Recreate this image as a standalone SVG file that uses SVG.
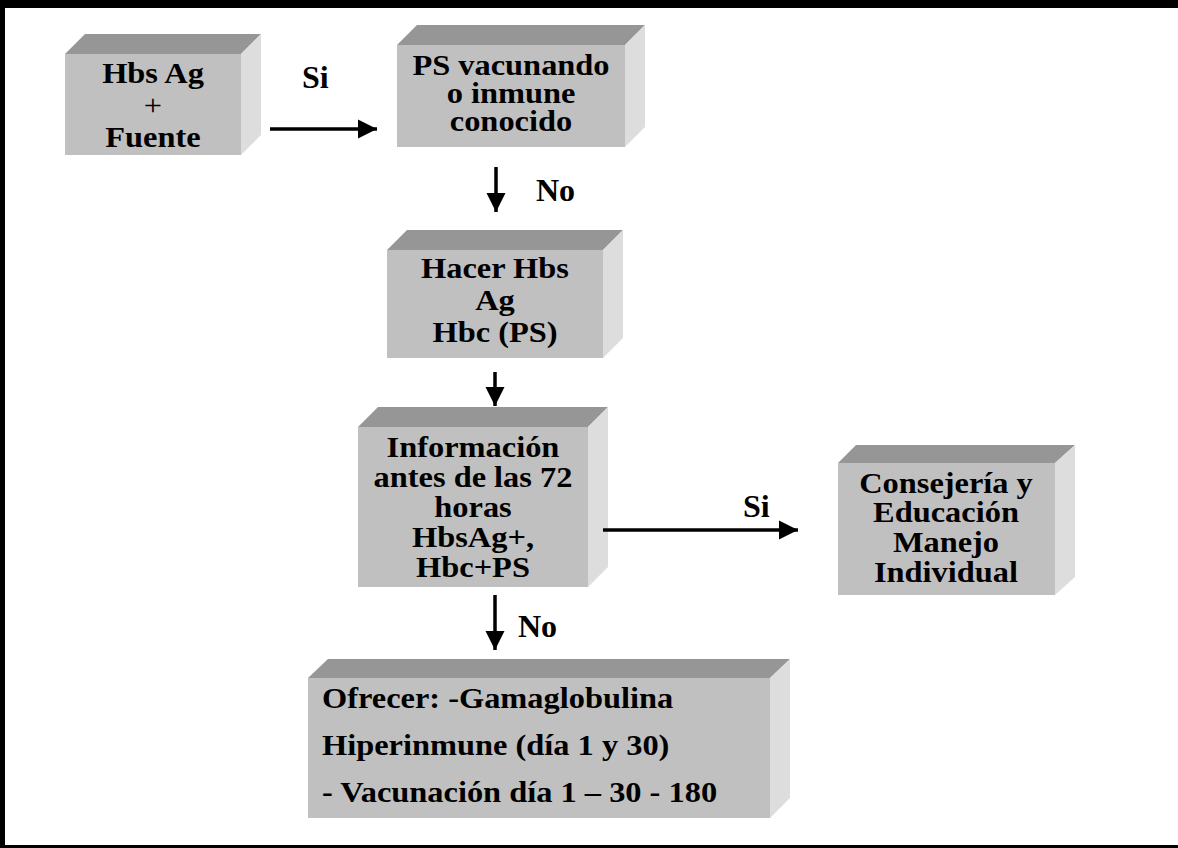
<svg xmlns="http://www.w3.org/2000/svg" width="1178" height="848" viewBox="0 0 1178 848">
<defs>
<style>
.front{fill:#C0C0C0}
.top{fill:#969696}
.side{fill:#DDDDDD}
text{font-family:"Liberation Serif","Times New Roman",serif;font-weight:bold;font-size:30px;fill:#000}
.c{text-anchor:middle}
.n{font-weight:normal}
.lbl{font-size:32px}
.ln{stroke:#000;stroke-width:3.5;fill:none}
</style>
<marker id="ah" viewBox="0 0 10 10" refX="10" refY="5" markerWidth="5.5" markerHeight="5.5" markerUnits="strokeWidth" orient="auto">
<path d="M0,0 L10,5 L0,10 Z" fill="#000"/>
</marker>
</defs>
<rect x="0" y="0" width="1178" height="848" fill="#fff"/>
<rect x="0" y="0" width="1178" height="8" fill="#000"/>
<rect x="0" y="0" width="5" height="848" fill="#000"/>
<rect x="0" y="845" width="1178" height="3" fill="#000"/>

<g id="n1">
<polygon class="top" points="65,54 85,34 261,34 241,54"/>
<polygon class="side" points="241,54 261,34 261,135 241,155"/>
<rect class="front" x="65" y="54" width="176" height="101"/>
<text class="c" transform="translate(153,0) scale(1.08,1) translate(-153,0)"><tspan x="153" y="83">Hbs Ag</tspan><tspan x="153" y="115" class="n">+</tspan><tspan x="153" y="147">Fuente</tspan></text>
</g>

<g id="n2">
<polygon class="top" points="397,45 417,25 645,25 625,45"/>
<polygon class="side" points="625,45 645,25 645,127 625,147"/>
<rect class="front" x="397" y="45" width="228" height="102"/>
<text class="c" transform="translate(511,0) scale(1.08,1) translate(-511,0)"><tspan x="511" y="75">PS vacunando</tspan><tspan x="511" y="103">o inmune</tspan><tspan x="511" y="131">conocido</tspan></text>
</g>

<g id="n3">
<polygon class="top" points="387,250 407,230 623,230 603,250"/>
<polygon class="side" points="603,250 623,230 623,338 603,358"/>
<rect class="front" x="387" y="250" width="216" height="108"/>
<text class="c" transform="translate(495,0) scale(1.08,1) translate(-495,0)"><tspan x="495" y="278">Hacer Hbs</tspan><tspan x="495" y="310">Ag</tspan><tspan x="495" y="342">Hbc (PS)</tspan></text>
</g>

<g id="n4">
<polygon class="top" points="358,427 378,407 608,407 588,427"/>
<polygon class="side" points="588,427 608,407 608,567 588,587"/>
<rect class="front" x="358" y="427" width="230" height="160"/>
<text class="c" transform="translate(473,0) scale(1.08,1) translate(-473,0)"><tspan x="473" y="457">Información</tspan><tspan x="473" y="487">antes de las 72</tspan><tspan x="473" y="517">horas</tspan><tspan x="473" y="547">HbsAg+,</tspan><tspan x="473" y="577">Hbc+PS</tspan></text>
</g>

<g id="n5">
<polygon class="top" points="838,463 856,445 1075,445 1055,463"/>
<polygon class="side" points="1055,463 1075,445 1075,577 1055,595"/>
<rect class="front" x="838" y="463" width="217" height="132"/>
<text class="c" transform="translate(946,0) scale(1.08,1) translate(-946,0)"><tspan x="946" y="493">Consejería y</tspan><tspan x="946" y="522">Educación</tspan><tspan x="946" y="552">Manejo</tspan><tspan x="946" y="582">Individual</tspan></text>
</g>

<g id="n6">
<polygon class="top" points="308,678 328,659 790,659 770,678"/>
<polygon class="side" points="770,678 790,659 790,798 770,818"/>
<rect class="front" x="308" y="678" width="462" height="140"/>
<text transform="translate(322,0) scale(1.08,1) translate(-322,0)"><tspan x="322" y="708">Ofrecer: -Gamaglobulina</tspan><tspan x="322" y="755">Hiperinmune (día 1 y 30)</tspan><tspan x="322" y="802">- Vacunación día 1 – 30 - 180</tspan></text>
</g>

<g id="connectors">
<line class="ln" x1="270" y1="129" x2="377" y2="129" marker-end="url(#ah)"/>
<text class="lbl" x="302" y="88">Si</text>
<line class="ln" x1="496" y1="167" x2="496" y2="212" marker-end="url(#ah)"/>
<text class="lbl" x="536" y="201">No</text>
<line class="ln" x1="495" y1="372" x2="495" y2="406" marker-end="url(#ah)"/>
<line class="ln" x1="603" y1="530" x2="798" y2="530" marker-end="url(#ah)"/>
<text class="lbl" x="743" y="517">Si</text>
<line class="ln" x1="495" y1="595" x2="495" y2="650" marker-end="url(#ah)"/>
<text class="lbl" x="518" y="637">No</text>
</g>
</svg>
